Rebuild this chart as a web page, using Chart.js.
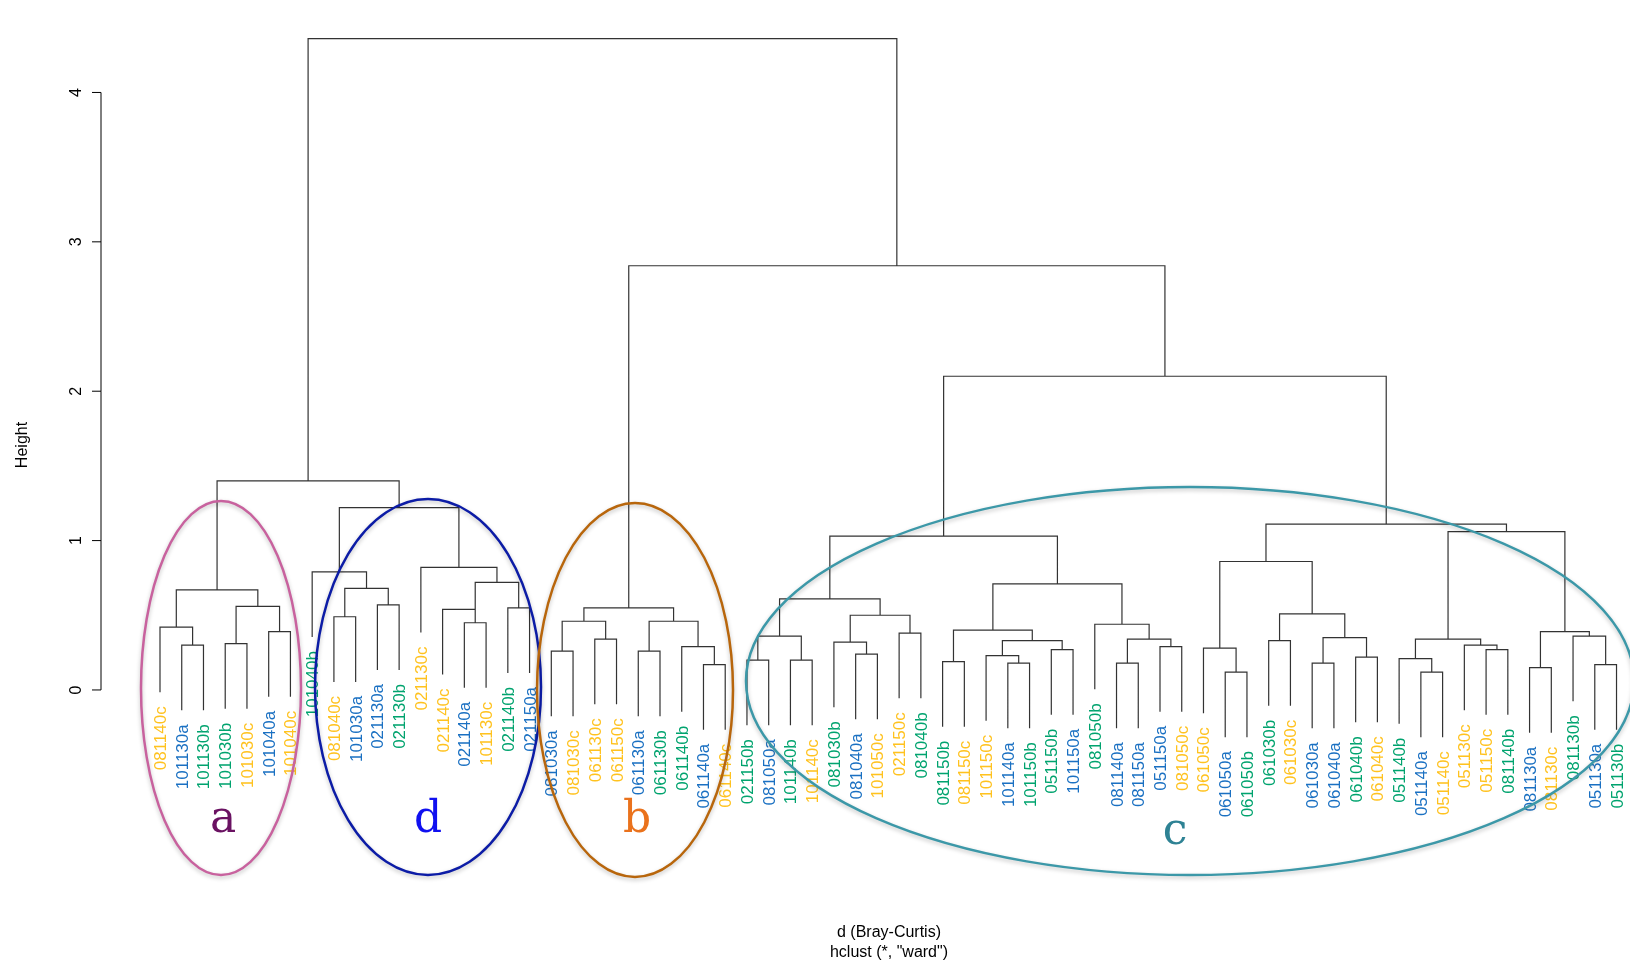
<!DOCTYPE html>
<html>
<head>
<meta charset="utf-8">
<script src="https://cdn.jsdelivr.net/npm/chart.js@4.4.1/dist/chart.umd.min.js"></script>
<style>
  html, body { margin: 0; padding: 0; background: #fff; }
  #wrap { width: 1630px; height: 966px; position: relative; }
</style>
</head>
<body>
<div id="wrap"><canvas id="chart"></canvas></div>
<script>
(function () {
  'use strict';

  // ── Data ────────────────────────────────────────────────
  var leafLabels = [
    '081140c','101130a','101130b','101030b','101030c','101040a','101040c',
    '101040b','081040c','101030a','021130a','021130b','021130c','021140c',
    '021140a','101130c','021140b','021150a','081030a','081030c','061130c',
    '061150c','061130a','061130b','061140b','061140a','061140c','021150b',
    '081050a','101140b','101140c','081030b','081040a','101050c','021150c',
    '081040b','081150b','081150c','101150c','101140a','101150b','051150b',
    '101150a','081050b','081140a','081150a','051150a','081050c','061050c',
    '061050a','061050b','061030b','061030c','061030a','061040a','061040b',
    '061040c','051140b','051140a','051140c','051130c','051150c','081140b',
    '081130a','081130c','081130b','051130a','051130b'
  ];

  // merge steps: negative = leaf number, positive = earlier step number
  var mergeLeft   = [-2, -1, -4, -6,  3,  2, -9, -11,  7, -8,
                    -15, -14, -17, 11, -13, 10,  6, -19, -21, 18,
                    -23, -26, -25, 21, 20, -28, -30, 26, -33, -32,
                    -35, 30, 28, -37, -40, -39, -42, 36, 34, -45,
                    -47, 40, -44, 39, 33, -50, -49, -52, -54, -56,
                    49, 48, 47, -59, -58, -62, -61, 55, -64, -67,
                    -66, 59, 58, 53, 45, 25, 17];
  var mergeRight  = [-3, 1, -5, -7, 4, 5, -10, -12, 8, 9,
                     -16, 11, -18, 13, 14, 15, 16, -20, -22, 19,
                     -24, -27, 22, 23, 24, -29, -31, 27, -34, 29,
                     -36, 31, 32, -38, -41, 35, -43, 37, 38, -46,
                     -48, 41, 42, 43, 44, -51, 46, -53, -55, -57,
                     50, 51, 52, -60, 54, -63, 56, 57, -65, -68,
                     60, 61, 62, 63, 64, 65, 66];
  var mergeHeight = [0.30, 0.42, 0.31, 0.39, 0.56, 0.67, 0.49, 0.57, 0.68, 0.79,
                     0.45, 0.54, 0.55, 0.72, 0.82, 1.22, 1.40, 0.26, 0.34, 0.46,
                     0.26, 0.17, 0.29, 0.46, 0.55, 0.20, 0.20, 0.36, 0.24, 0.32,
                     0.38, 0.50, 0.61, 0.19, 0.18, 0.23, 0.27, 0.33, 0.40, 0.18,
                     0.29, 0.34, 0.44, 0.71, 1.03, 0.12, 0.28, 0.33, 0.18, 0.22,
                     0.35, 0.51, 0.86, 0.12, 0.21, 0.27, 0.30, 0.34, 0.15, 0.17,
                     0.36, 0.39, 1.06, 1.11, 2.10, 2.84, 4.36];

  var yTicks = [0, 1, 2, 3, 4];

  var SUFFIX_COLORS = { a: '#1a70c2', b: '#00a36e', c: '#ffc21f' };
  var LINE = '#333333';
  var HANG = 0.1 * Math.max.apply(null, mergeHeight);

  // ── Build dendrogram segments ──────────────────────────
  var nodeX = [], nodeY = [];
  var segs = [];
  var leafEnd = [];

  function childPos(id, h) {
    if (id < 0) {
      var i = -id;
      leafEnd[i] = h - HANG;
      return { x: i, y: h - HANG };
    }
    return { x: nodeX[id], y: nodeY[id] };
  }

  mergeHeight.forEach(function (h, k) {
    var L = childPos(mergeLeft[k], h);
    var R = childPos(mergeRight[k], h);
    nodeX[k + 1] = (L.x + R.x) / 2;
    nodeY[k + 1] = h;
    segs.push({ x: L.x, y: L.y }, { x: L.x, y: h }, { x: R.x, y: h }, { x: R.x, y: R.y }, { x: R.x, y: null });
  });

  // ── Custom drawing: axis, labels, annotations ──────────
  var extras = {
    id: 'extras',
    afterDraw: function (chart) {
      var c = chart.ctx, xs = chart.scales.x, ys = chart.scales.y;
      c.save();

      // y axis (R style)
      var ax = 101;
      c.strokeStyle = '#000'; c.lineWidth = 1;
      c.beginPath();
      c.moveTo(ax, ys.getPixelForValue(0));
      c.lineTo(ax, ys.getPixelForValue(4));
      c.stroke();
      c.font = '16px "Liberation Sans", Arial, sans-serif';
      c.fillStyle = '#000';
      yTicks.forEach(function (t) {
        var py = ys.getPixelForValue(t);
        c.beginPath(); c.moveTo(ax, py); c.lineTo(ax - 9, py); c.stroke();
        c.save(); c.translate(ax - 25, py); c.rotate(-Math.PI / 2);
        c.textAlign = 'center'; c.textBaseline = 'alphabetic';
        c.fillText(String(t), 0, 5); c.restore();
      });
      c.save(); c.translate(27, 445); c.rotate(-Math.PI / 2);
      c.textAlign = 'center'; c.fillText('Height', 0, 0); c.restore();

      c.textAlign = 'center';
      c.fillText('d (Bray-Curtis)', 889, 937);
      c.fillText('hclust (*, "ward")', 889, 957);

      // leaf labels
      c.font = '17px "Liberation Sans", Arial, sans-serif';
      leafLabels.forEach(function (lab, i) {
        var px = xs.getPixelForValue(i + 1);
        var py = ys.getPixelForValue(leafEnd[i + 1]) + 14;
        c.save(); c.translate(px + 6, py); c.rotate(-Math.PI / 2);
        c.textAlign = 'right';
        c.fillStyle = SUFFIX_COLORS[lab.charAt(lab.length - 1)];
        c.fillText(lab, 0, 0);
        c.restore();
      });

      // cluster ellipses
      var ells = [
        { cx: 221, cy: 688, rx: 80, ry: 187, col: '#c8629e', t: 'a', tc: '#6a1262', tx: 223, ty: 832 },
        { cx: 428, cy: 687, rx: 113, ry: 188, col: '#0c1ca6', t: 'd', tc: '#1010f0', tx: 428, ty: 832 },
        { cx: 635, cy: 690, rx: 98, ry: 187, col: '#b8660c', t: 'b', tc: '#ea721c', tx: 637, ty: 832 },
        { cx: 1190, cy: 681, rx: 444, ry: 194, col: '#3c98a8', t: 'c', tc: '#2e8294', tx: 1175, ty: 844 }
      ];
      ells.forEach(function (e) {
        c.save();
        c.shadowColor = 'rgba(0,0,0,0.25)'; c.shadowBlur = 4; c.shadowOffsetY = 2;
        c.strokeStyle = e.col; c.lineWidth = 2.5;
        c.beginPath(); c.ellipse(e.cx, e.cy, e.rx, e.ry, 0, 0, Math.PI * 2); c.stroke();
        c.restore();
        c.fillStyle = e.tc;
        c.font = '44px "DejaVu Serif", "Liberation Serif", serif';
        c.textAlign = 'center';
        c.fillText(e.t, e.tx, e.ty);
      });
      c.restore();
    }
  };

  new Chart(document.getElementById('chart'), {
    type: 'line',
    data: {
      datasets: [{
        data: segs,
        borderColor: LINE,
        borderWidth: 1.2,
        pointRadius: 0,
        spanGaps: false,
        tension: 0,
        fill: false
      }]
    },
    options: {
      responsive: true,
      maintainAspectRatio: false,
      animation: false,
      layout: { padding: 0 },
      plugins: { legend: { display: false }, tooltip: { enabled: false } },
      scales: {
        x: { type: 'linear', display: false, min: -6.36, max: 68.62 },
        y: { type: 'linear', display: false, min: -1.848, max: 4.619 }
      }
    },
    plugins: [extras]
  });
}());
</script>
</body>
</html>
